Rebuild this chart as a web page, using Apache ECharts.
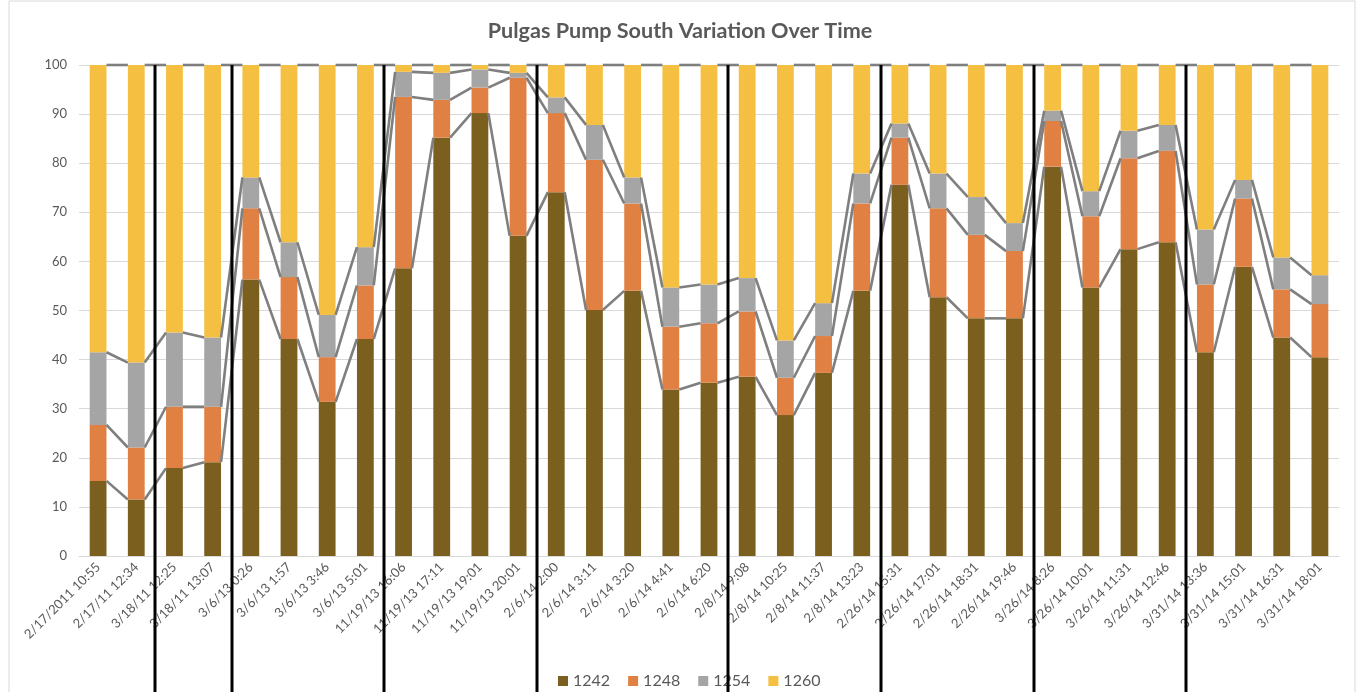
<!DOCTYPE html>
<html>
<head>
<meta charset="utf-8">
<title>Pulgas Pump South Variation Over Time</title>
<script src="https://cdn.jsdelivr.net/npm/echarts@6/dist/echarts.min.js"></script>
<style>
	html, body { margin: 0; padding: 0; background: #fff; }
	#main { width: 1360px; height: 692px; }
</style>
</head>
<body>
<div id="main"></div>
<script>
// sample times
var times = ['2/17/2011 10:55', '2/17/11 12:34', '3/18/11 12:25', '3/18/11 13:07',
	'3/6/13 0:26', '3/6/13 1:57', '3/6/13 3:46', '3/6/13 5:01',
	'11/19/13 16:06', '11/19/13 17:11', '11/19/13 19:01', '11/19/13 20:01',
	'2/6/14 2:00', '2/6/14 3:11', '2/6/14 3:20', '2/6/14 4:41', '2/6/14 6:20',
	'2/8/14 9:08', '2/8/14 10:25', '2/8/14 11:37', '2/8/14 13:23',
	'2/26/14 15:31', '2/26/14 17:01', '2/26/14 18:31', '2/26/14 19:46',
	'3/26/14 8:26', '3/26/14 10:01', '3/26/14 11:31', '3/26/14 12:46',
	'3/31/14 13:36', '3/31/14 15:01', '3/31/14 16:31', '3/31/14 18:01'];

var s1242 = [15.3, 11.5, 17.9, 19.1, 56.3, 44.2, 31.4, 44.2, 58.6, 85.2, 90.2, 65.2,
	74.1, 50.1, 54.0, 33.9, 35.3, 36.5, 28.7, 37.3, 54.0, 75.6, 52.7, 48.4, 48.4,
	79.3, 54.7, 62.5, 63.9, 41.5, 58.9, 44.5, 40.5];
var s1248 = [11.4, 10.6, 12.5, 11.3, 14.5, 12.6, 9.1, 10.9, 34.9, 7.7, 5.2, 32.2,
	16.1, 30.6, 17.8, 12.8, 12.1, 13.3, 7.6, 7.5, 17.8, 9.6, 18.1, 17.0, 13.7,
	9.3, 14.5, 18.5, 18.6, 13.8, 13.9, 9.8, 10.8];
var s1254 = [14.8, 17.3, 15.1, 14.1, 6.3, 7.1, 8.6, 7.8, 5.1, 5.5, 3.7, 1.0,
	3.2, 7.1, 5.3, 8.0, 7.9, 6.8, 7.6, 6.7, 6.1, 2.9, 7.1, 7.7, 5.7,
	2.1, 5.1, 5.6, 5.3, 11.2, 3.8, 6.5, 5.9];
var s1260 = [58.5, 60.6, 54.5, 55.5, 22.9, 36.1, 50.9, 37.1, 1.4, 1.6, 0.9, 1.6,
	6.6, 12.2, 22.9, 45.3, 44.7, 43.4, 56.1, 48.5, 22.1, 11.9, 22.1, 26.9, 32.2,
	9.3, 25.7, 13.4, 12.2, 33.5, 23.4, 39.2, 42.8];

var seriesNames = ['1242', '1248', '1254', '1260'];
var yTicks = [0, 10, 20, 30, 40, 50, 60, 70, 80, 90, 100];
// index of first sample in each new sampling event
var groupStarts = [2, 4, 8, 12, 17, 21, 25, 29];

var colors = ['#7a5f1f', '#e08042', '#a5a5a5', '#f5bf42'];
var barRatio = 0.44;

var chart = {
	init : function() {
		this.chart = echarts.init(document.getElementById('main'));
		var allSeries = [s1242, s1248, s1254, s1260];

		// cumulative tops for the series lines
		var levels = [];
		var run = times.map(function() { return 0; });
		allSeries.forEach(function(arr) {
			run = run.map(function(v, i) { return v + arr[i]; });
			levels.push(run.slice());
		});
		var lineData = [];
		levels.forEach(function(lev) {
			for (var i = 0; i < times.length - 1; i++) {
				lineData.push([i, lev[i], lev[i + 1]]);
			}
		});

		var series = allSeries.map(function(arr, k) {
			return {
				name : seriesNames[k],
				type : 'bar',
				stack : 'all',
				barWidth : (barRatio * 100) + '%',
				itemStyle : { color : colors[k] },
				data : arr
			};
		});
		series.push({
			type : 'custom',
			silent : true,
			z : 5,
			data : lineData,
			encode : { x : 0, y : [1, 2] },
			renderItem : function(params, api) {
				var i = api.value(0);
				var p1 = api.coord([i, api.value(1)]);
				var p2 = api.coord([i + 1, api.value(2)]);
				var half = api.size([1, 0])[0] * barRatio / 2;
				return {
					type : 'line',
					shape : { x1 : p1[0] + half, y1 : p1[1], x2 : p2[0] - half, y2 : p2[1] },
					style : { stroke : '#7f7f7f', lineWidth : 2.6 }
				};
			}
		});

		var option = {
			animation : false,
			title : {
				text : 'Pulgas Pump South Variation Over Time',
				left : 'center',
				top : 15,
				textStyle : { fontFamily : 'Lato', fontSize : 21.6, fontWeight : 'bold', color : '#595959' }
			},
			legend : {
				top : 668,
				left : 553,
				itemWidth : 10,
				itemHeight : 10,
				itemGap : 18,
				icon : 'rect',
				data : seriesNames,
				textStyle : { fontFamily : 'Lato', fontSize : 16, color : '#595959' }
			},
			grid : { left : 79, right : 21, top : 65, bottom : 136 },
			xAxis : {
				type : 'category',
				data : times,
				axisTick : { show : false },
				axisLine : { lineStyle : { color : '#d9d9d9' } },
				axisLabel : {
					interval : 0,
					rotate : 45,
					margin : 9,
					fontFamily : 'Lato',
					fontSize : 13,
					color : '#595959'
				}
			},
			yAxis : {
				type : 'value',
				min : yTicks[0],
				max : yTicks[yTicks.length - 1],
				interval : 10,
				axisLabel : { fontFamily : 'Lato', fontSize : 13, color : '#595959', margin : 12 },
				splitLine : { lineStyle : { color : '#d9d9d9', width : 1 } }
			},
			series : series
		};
		this.chart.setOption(option);
		this.drawBreaks();
	},
	drawBreaks : function() {
		var c = this.chart;
		var top = c.convertToPixel({ yAxisIndex : 0 }, 100);
		var els = [{
			type : 'rect',
			shape : { x : 9, y : 1, width : 1346, height : 700 },
			style : { fill : null, stroke : '#d9d9d9', lineWidth : 1 },
			z : 0
		}];
		groupStarts.forEach(function(b) {
			var xa = c.convertToPixel({ xAxisIndex : 0 }, times[b - 1]);
			var xb = c.convertToPixel({ xAxisIndex : 0 }, times[b]);
			var x = Math.round((xa + xb) / 2);
			els.push({
				type : 'line',
				shape : { x1 : x, y1 : top, x2 : x, y2 : 692 },
				style : { stroke : '#000', lineWidth : 3 },
				z : 100
			});
		});
		c.setOption({ graphic : els });
	}
};
chart.init();
</script>
</body>
</html>
